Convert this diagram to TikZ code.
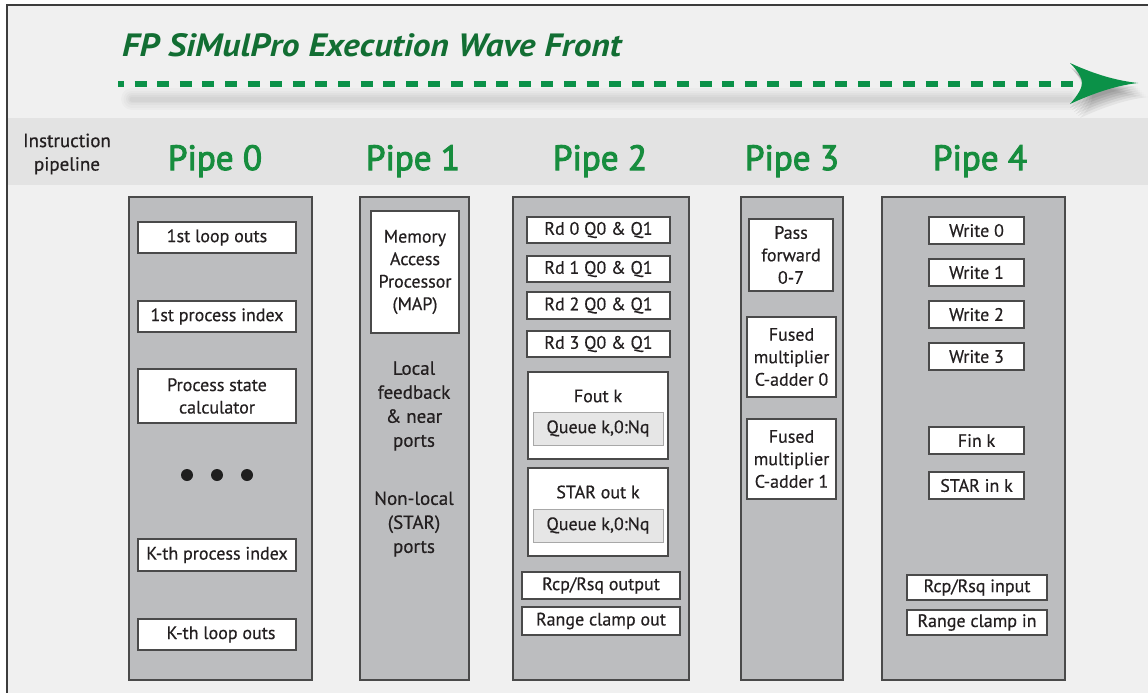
\documentclass[tikz,border=0pt]{standalone}
\usepackage{fontspec}
\usepackage{graphicx}
\setmainfont{PT Sans}
\newfontfamily\pipefont[FakeBold=3]{PT Sans}
\newfontfamily\bodyfont[FakeBold=0.5]{PT Sans}
\usetikzlibrary{calc}
\definecolor{bg}{HTML}{F0F0F0}
\definecolor{band}{HTML}{E3E3E3}
\definecolor{pipegray}{HTML}{BCBDBF}
\definecolor{edge}{HTML}{4A4A4A}
\definecolor{queuefill}{HTML}{E6E6E6}
\definecolor{queueedge}{HTML}{A8A8A8}
\definecolor{pipegreen}{HTML}{178D3E}
\definecolor{titlegreen}{HTML}{126E33}
\definecolor{wavegreen}{HTML}{0B9148}
\definecolor{framecol}{HTML}{3C3C3C}
\definecolor{txt}{HTML}{231F20}
\newcommand\waveheadpath{(1070,63) .. controls (1098,76) and (1120,81) .. (1138,83) .. controls (1120,85) and (1098,91) .. (1070,104) .. controls (1078,95) and (1082,88) .. (1082,83) .. controls (1082,78) and (1078,71) .. (1070,63) -- cycle}
\tikzset{
  pipecol/.style={draw=edge, fill=pipegray, line width=1.5pt, inner sep=0pt},
  unit/.style={draw=edge, fill=white, line width=1.5pt, inner sep=0pt, align=center, text=txt, font=\bodyfont\fontsize{18}{22.5}\selectfont},
  queue/.style={draw=queueedge, fill=queuefill, line width=1pt, inner sep=0pt, text=txt, font=\bodyfont\fontsize{18}{22.5}\selectfont},
  plabel/.style={text=pipegreen, font=\pipefont\fontsize{35}{40}\selectfont, anchor=base, inner sep=0pt},
  note/.style={align=center, text=txt, inner sep=0pt, font=\bodyfont\fontsize{19}{24}\selectfont},
  dot/.style={circle, fill=black!88, minimum size=12pt, inner sep=0pt},
}
\begin{document}
\begin{tikzpicture}[x=1pt,y=-1pt]
\useasboundingbox (0,0) rectangle (1148,693);
% background and frame
\fill[white] (0,0) rectangle (1148,693);
\fill[bg] (7,5) rectangle (1148,693);
\fill[band] (8,118) rectangle (1148,185);
\draw[framecol, line width=1.5pt] (7,693) -- (7,5) -- (1148,5);

% title
\node[anchor=west, text=titlegreen, inner sep=0pt] (title) at (122,45)
  {\resizebox{499pt}{23pt}{\bfseries\itshape FP SiMulPro Execution Wave Front}};

% wave front arrow: shadow
\foreach \w/\o in {22/0.02,17/0.02,12/0.025,8/0.025,5/0.025}
  \draw[black, opacity=\o, line width=\w pt, line cap=round] (132,99) -- (1070,99);
\foreach \s/\o in {0/0.07,2/0.07,4/0.07,6/0.07,8/0.06,10/0.05}
  \fill[black, opacity=\o, shift={(\s,\s+4)}] \waveheadpath;
% wave front arrow
\coordinate (ws) at (118,84);
\coordinate (we) at (1078,84);
\draw[wavegreen, line width=5.5pt, dash pattern=on 12pt off 10.6pt, dash phase=6pt] (ws) -- (we);
\fill[wavegreen] \waveheadpath;

% band labels
\node[note, font=\bodyfont\fontsize{19}{23.5}\selectfont] (instr) at (67,154) {Instruction\\pipeline};
\node[plabel] (l0) at (215,170) {Pipe 0};
\node[plabel] (l1) at (413,170) {Pipe 1};
\node[plabel] (l2) at (600,170) {Pipe 2};
\node[plabel] (l3) at (792,170) {Pipe 3};
\node[plabel] (l4) at (980,170) {Pipe 4};

% pipe columns
\node[pipecol, minimum width=183, minimum height=483] (p0) at (220.5,438.5) {};
\node[pipecol, minimum width=109, minimum height=483] (p1) at (414.5,438.5) {};
\node[pipecol, minimum width=176, minimum height=483] (p2) at (601,438.5) {};
\node[pipecol, minimum width=102, minimum height=483] (p3) at (792,438.5) {};
\node[pipecol, minimum width=183, minimum height=483] (p4) at (973.5,438.5) {};

% pipe 0
\node[unit, minimum width=158, minimum height=31] (a1) at (217,237.5) {1st loop outs};
\node[unit, minimum width=158, minimum height=31] (a2) at (217,316.5) {1st process index};
\node[unit, minimum width=158, minimum height=54] (a3) at (217,396) {Process state\\calculator};
\node[dot] (d1) at (187,475) {};
\node[dot] (d2) at (217,475) {};
\node[dot] (d3) at (247,475) {};
\node[unit, minimum width=158, minimum height=32] (a4) at (217,555) {K-th process index};
\node[unit, minimum width=158, minimum height=31] (a5) at (217,634.5) {\hspace{8pt}K-th loop outs};

% pipe 1
\node[unit, minimum width=88, minimum height=122] (map) at (415,272) {Memory\\Access\\Processor\\(MAP)};
\node[note] (local) at (414,406) {Local\\feedback\\\&{} near\\ports};
\node[note] (nonlocal) at (414,524) {Non-local\\(STAR)\\ports};

% pipe 2
\node[unit, minimum width=143, minimum height=26] (r0) at (598.5,230) {Rd 0 Q0 \& Q1};
\node[unit, minimum width=143, minimum height=26] (r1) at (598.5,269) {Rd 1 Q0 \& Q1};
\node[unit, minimum width=143, minimum height=27] (r2) at (598.5,305.5) {Rd 2 Q0 \& Q1};
\node[unit, minimum width=143, minimum height=26] (r3) at (598.5,344) {Rd 3 Q0 \& Q1};
\node[unit, minimum width=140, minimum height=87] (fout) at (598,415.5) {};
\node[note, font=\bodyfont\fontsize{18}{22.5}\selectfont] (fouttxt) at (598,396) {Fout k};
\node[queue, minimum width=130, minimum height=33] (q1) at (598,428.5) {Queue k,0:Nq};
\node[unit, minimum width=140, minimum height=88] (star) at (598,512) {};
\node[note, font=\bodyfont\fontsize{18}{22.5}\selectfont] (startxt) at (598,492) {STAR out k};
\node[queue, minimum width=130, minimum height=33] (q2) at (598,525.5) {Queue k,0:Nq};
\node[unit, minimum width=158, minimum height=27] (rcpo) at (601,585.5) {Rcp/Rsq output};
\node[unit, minimum width=158, minimum height=28] (rco) at (601,621) {Range clamp out};

% pipe 3
\node[unit, minimum width=84, minimum height=72] (pass) at (791,255) {Pass\\forward\\0-7};
\node[unit, minimum width=89, minimum height=80] (fm0) at (791.5,357) {Fused\\multiplier\\C-adder 0};
\node[unit, minimum width=89, minimum height=80] (fm1) at (791.5,459) {Fused\\multiplier\\C-adder 1};

% pipe 4
\node[unit, minimum width=95, minimum height=27] (w0) at (976.5,230.5) {Write 0};
\node[unit, minimum width=95, minimum height=27] (w1) at (976.5,272.5) {Write 1};
\node[unit, minimum width=95, minimum height=27] (w2) at (976.5,314.5) {Write 2};
\node[unit, minimum width=95, minimum height=27] (w3) at (976.5,356.5) {Write 3};
\node[unit, minimum width=95, minimum height=27] (fin) at (976.5,440.5) {Fin k};
\node[unit, minimum width=95, minimum height=27] (starin) at (976.5,485.5) {STAR in k};
\node[unit, minimum width=140, minimum height=25] (rcpi) at (977,587.5) {Rcp/Rsq input};
\node[unit, minimum width=140, minimum height=25] (rci) at (977,622.5) {Range clamp in};
\end{tikzpicture}
\end{document}
